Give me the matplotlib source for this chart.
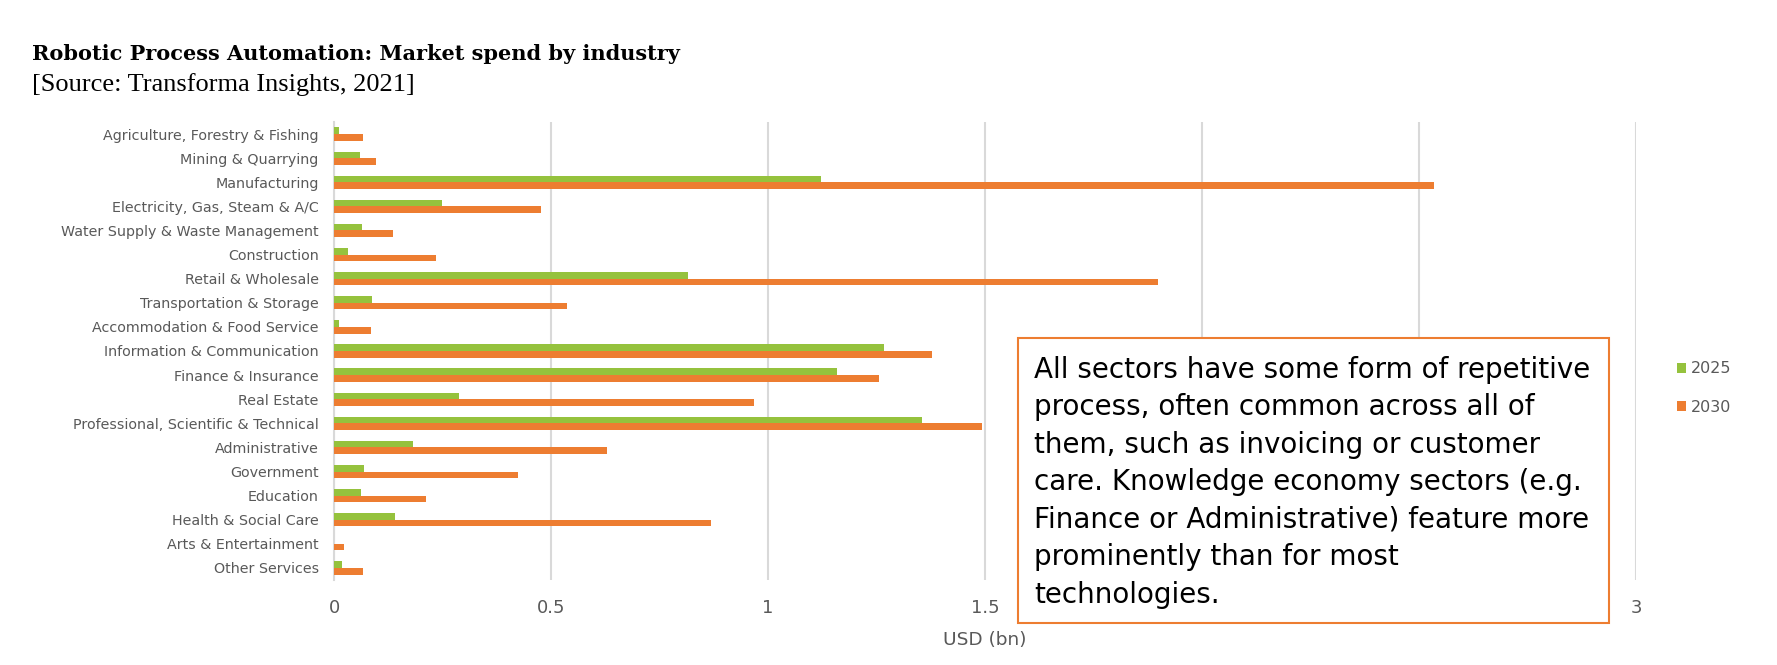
import matplotlib
matplotlib.use("Agg")
import matplotlib.pyplot as plt
import numpy as np
from matplotlib.patches import Rectangle, Patch

categories = [
    "Agriculture, Forestry & Fishing",
    "Mining & Quarrying",
    "Manufacturing",
    "Electricity, Gas, Steam & A/C",
    "Water Supply & Waste Management",
    "Construction",
    "Retail & Wholesale",
    "Transportation & Storage",
    "Accommodation & Food Service",
    "Information & Communication",
    "Finance & Insurance",
    "Real Estate",
    "Professional, Scientific & Technical",
    "Administrative",
    "Government",
    "Education",
    "Health & Social Care",
    "Arts & Entertainment",
    "Other Services",
]
spend_2025 = [0.011, 0.060, 1.122, 0.248, 0.065, 0.032, 0.815, 0.087, 0.011, 1.268,
              1.160, 0.288, 1.355, 0.181, 0.068, 0.062, 0.140, 0.0, 0.018]
spend_2030 = [0.066, 0.096, 2.535, 0.476, 0.135, 0.235, 1.899, 0.536, 0.085, 1.379,
              1.256, 0.968, 1.492, 0.629, 0.424, 0.212, 0.869, 0.022, 0.066]
series_labels = ["2025", "2030"]
x_ticks = [0, 0.5, 1, 1.5, 2, 2.5, 3]
x_tick_labels = ["0", "0.5", "1", "1.5", "2", "2.5", "3"]

title = "Robotic Process Automation: Market spend by industry"
subtitle = "[Source: Transforma Insights, 2021]"
note_lines = [
    "All sectors have some form of repetitive",
    "process, often common across all of",
    "them, such as invoicing or customer",
    "care. Knowledge economy sectors (e.g.",
    "Finance or Administrative) feature more",
    "prominently than for most",
    "technologies.",
]

GREEN = "#95C23D"
ORANGE = "#ED7D31"
GRID = "#D9D9D9"
GRAY = "#595959"

W, H = 1777, 665
fig = plt.figure(figsize=(W / 100, H / 100), dpi=100)
ax = fig.add_axes([334 / W, 1 - 580 / H, (1636 - 334) / W, (580 - 122) / H])

y = np.arange(len(categories))
bh = 0.275
ax.barh(y - bh / 2, spend_2025, height=bh, color=GREEN, label=series_labels[0], zorder=3)
ax.barh(y + bh / 2, spend_2030, height=bh, color=ORANGE, label=series_labels[1], zorder=3)

ax.set_ylim(len(categories) - 0.5, -0.5)
ax.set_xlim(0, 3)
ax.set_yticks(y)
ax.set_yticklabels(categories, fontsize=10.3, color=GRAY, family="DejaVu Sans")
ax.set_xticks(x_ticks)
ax.set_xticklabels(x_tick_labels, fontsize=13, color=GRAY)
ax.tick_params(axis="both", length=0)
ax.tick_params(axis="y", pad=11)
ax.tick_params(axis="x", pad=14)
ax.grid(axis="x", color=GRID, linewidth=1.5, zorder=0)
for s in ["top", "right", "bottom"]:
    ax.spines[s].set_visible(False)
ax.spines["left"].set_color(GRID)
ax.spines["left"].set_linewidth(1.5)
ax.set_xlabel("USD (bn)", fontsize=13.3, color=GRAY, labelpad=10)

fig.text(32 / W, 1 - 54 / H, title, fontsize=15, fontweight="bold",
         family="DejaVu Serif", va="center", ha="left", color="black")
fig.text(32 / W, 1 - 85 / H, subtitle, fontsize=19, family="Liberation Serif",
         va="center", ha="left", color="black")

# Legend
handles = [Patch(facecolor=GREEN), Patch(facecolor=ORANGE)]
fig.legend(handles, series_labels, loc="upper left", bbox_to_anchor=(1671 / W, 1 - 355 / H),
           frameon=False, fontsize=11.5, labelcolor=GRAY, handlelength=0.55, handleheight=0.55,
           handletextpad=0.3, labelspacing=1.45, borderaxespad=0)

# Annotation box (covers the x tick labels that lie beneath it, as in the original)
bx0, bx1, by0, by1 = 1018, 1609, 338, 623
rect = Rectangle((bx0 / W, 1 - by1 / H), (bx1 - bx0) / W, (by1 - by0) / H,
                 transform=fig.transFigure, facecolor="white", edgecolor=ORANGE,
                 linewidth=1.5, zorder=10)
fig.add_artist(rect)
t = fig.text(1034 / W, 1 - 356 / H, "\n".join(note_lines), fontsize=20, color="black",
             va="top", ha="left", family="DejaVu Sans", linespacing=1.43)
t.set_zorder(11)

# hide tick labels that are hidden behind the note box
fig.canvas.draw()
for tick_val, lbl in zip(x_ticks, ax.get_xticklabels()):
    px = ax.transData.transform((tick_val, 0))[0]
    if bx0 < px < bx1:
        lbl.set_visible(False)

fig.savefig("out.png", dpi=100)
